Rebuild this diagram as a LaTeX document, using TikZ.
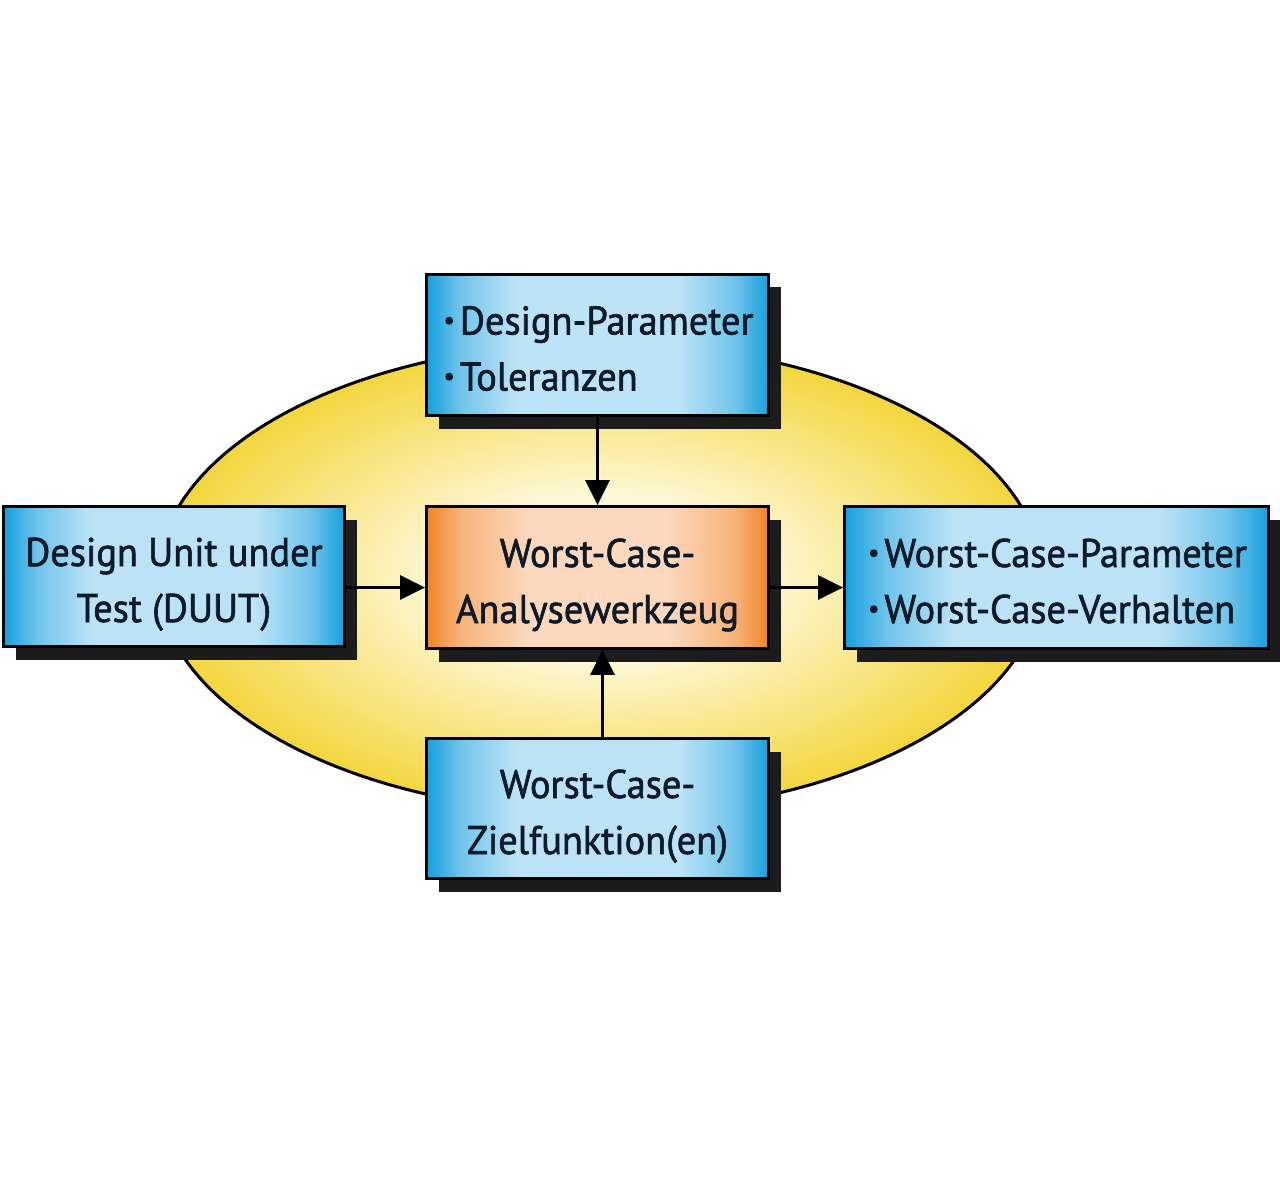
\documentclass[tikz,border=0pt]{standalone}
\usepackage{fontspec}
\setmainfont{PT Sans}
\newfontfamily\lblfont{PT Sans}[FakeBold=1.5, FakeStretch=0.96]
\usetikzlibrary{arrows.meta,shadows}
\definecolor{bluee}{HTML}{159FDC}
\definecolor{bluem}{HTML}{BCE2F6}
\colorlet{bluea}{bluem!55!bluee}
\definecolor{orane}{HTML}{EF8426}
\definecolor{oranm}{HTML}{FCD9BE}
\colorlet{orana}{oranm!55!orane}
\definecolor{ellout}{HTML}{F3D63E}
\definecolor{ellin}{HTML}{FFFBE8}
\definecolor{shad}{HTML}{1C1C1C}
\definecolor{txt}{HTML}{0E1A28}
\newcommand\bul{\raisebox{-4pt}{\scalebox{1.5}{·}}\kern3pt}
\pgfdeclarehorizontalshading{blueshade}{100bp}{color(0bp)=(bluee); color(25bp)=(bluee); color(30bp)=(bluea); color(38bp)=(bluem); color(62bp)=(bluem); color(70bp)=(bluea); color(75bp)=(bluee); color(100bp)=(bluee)}
\pgfdeclarehorizontalshading{orashade}{100bp}{color(0bp)=(orane); color(25bp)=(orane); color(30bp)=(orana); color(40bp)=(oranm); color(60bp)=(oranm); color(70bp)=(orana); color(75bp)=(orane); color(100bp)=(orane)}
\pgfdeclareradialshading{ellshade}{\pgfpoint{0bp}{0bp}}{color(0bp)=(ellin); color(7bp)=(ellin); color(25bp)=(ellout); color(50bp)=(ellout)}
\tikzset{
  box/.style={draw=black, line width=2.8pt, inner sep=0pt, shade, shading=blueshade,
    text=txt, font=\lblfont\fontsize{40}{56}\selectfont, text height=96pt, text depth=5pt,
    drop shadow={shadow xshift=12pt, shadow yshift=-13pt, fill=shad, opacity=1}},
  corebox/.style={box, shading=orashade},
  arr/.style={line width=3pt, -{Triangle[length=25pt,width=24pt]}}
}
\begin{document}
\begin{tikzpicture}[x=1pt,y=-1pt]
\useasboundingbox[fill=white] (0,0) rectangle (1280,1190);
\draw[line width=3pt, shade, shading=ellshade] (600,578) ellipse [x radius=442, y radius=235];
\node[box, minimum width=342pt, minimum height=141pt, align=left] (param) at (597.5,345)
  {\bul Design-Parameter\\\bul Toleranzen};
\node[corebox, minimum width=342pt, minimum height=142pt, align=center] (core) at (597.5,577.5)
  {Worst-Case-\\Analysewerkzeug};
\node[box, minimum width=341pt, minimum height=140pt, align=center] (duut) at (174,576.5)
  {Design Unit under\\Test (DUUT)};
\node[box, minimum width=424pt, minimum height=142pt, align=left] (res) at (1056.5,577.5)
  {\bul Worst-Case-Parameter\\\bul Worst-Case-Verhalten};
\node[box, minimum width=342pt, minimum height=140pt, align=center] (ziel) at (597.5,808.5)
  {Worst-Case-\\Zielfunktion(en)};
\draw[arr] (param.south) -- (core.north);
\draw[arr] ([xshift=5pt]ziel.north) -- ([xshift=5pt]core.south);
\draw[arr] ([yshift=-11pt]duut.east) -- ([yshift=-10pt]core.west);
\draw[arr] ([yshift=-10pt]core.east) -- ([yshift=-10pt]res.west);
\end{tikzpicture}
\end{document}
